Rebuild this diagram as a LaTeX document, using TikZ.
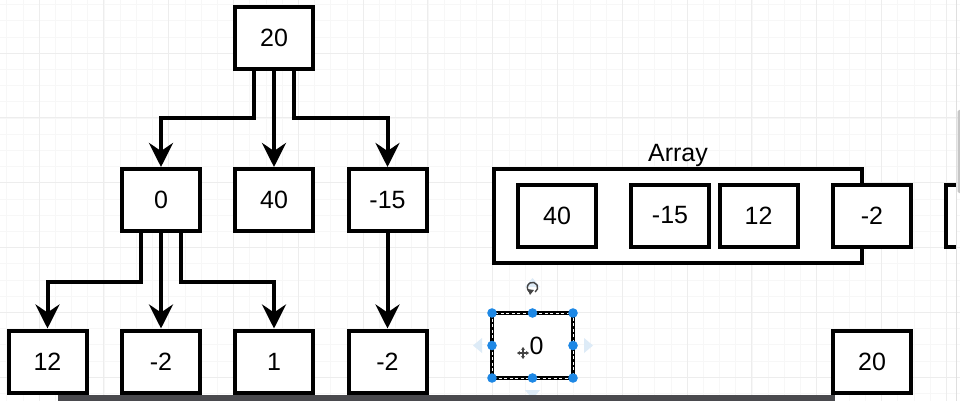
\documentclass[tikz,border=0pt]{standalone}
\usepackage{fontspec}
\setmainfont{Liberation Sans}
\usetikzlibrary{arrows.meta}
\definecolor{gridmaj}{HTML}{EDEDED}
\definecolor{gridmin}{HTML}{F7F7F7}
\definecolor{handle}{HTML}{1E88E5}
\definecolor{hint}{HTML}{DDEBF7}
\definecolor{barc}{HTML}{4A4A4E}
\definecolor{iconc}{HTML}{444444}
\tikzset{
  box/.style={draw=black, line width=4pt, fill=white, minimum width=78pt,
    minimum height=62pt, inner sep=0pt, font=\fontsize{25}{30}\selectfont},
  conn/.style={line width=4pt, -{Stealth[length=24pt,width=24pt,inset=8pt]}},
  lbl/.style={inner sep=0pt, font=\fontsize{25}{30}\selectfont},
  hnd/.style={fill=handle},
  hintc/.style={fill=hint},
}
\begin{document}
\begin{tikzpicture}[x=1pt,y=-1pt]
\useasboundingbox (0,0) rectangle (960,401);
\begin{scope}
\clip (0,0) rectangle (960,401);
\fill[white] (0,0) rectangle (960,401);
% grid
\foreach \i in {0,...,59} \draw[gridmin, line width=0.5pt] ({6.6+16.2*\i},0) -- ++(0,401);
\foreach \j in {0,...,24} \draw[gridmin, line width=0.5pt] (0,{4.4+16.2*\j}) -- ++(960,0);
\foreach \i in {0,...,14} \draw[gridmaj, line width=0.8pt] ({39+64.8*\i},0) -- ++(0,401);
\foreach \j in {1,...,6} \draw[gridmaj, line width=0.8pt] (0,{-11.8+64.8*\j}) -- ++(960,0);

% tree
\node[box] (r) at (274,38) {20};
\node[box] (a) at (161,200) {0};
\node[box] (b) at (274,200) {40};
\node[box] (c) at (387.5,200) {-15};
\node[box] (d) at (47.5,361.5) {12};
\node[box] (e) at (161,361.5) {-2};
\node[box] (f) at (274,361.5) {1};
\node[box] (g) at (387.5,361.5) {-2};

\draw[conn] ([xshift=-20pt]r.south) -- ++(0,47) -| (a.north);
\draw[conn] (r.south) -- (b.north);
\draw[conn] ([xshift=20pt]r.south) -- ++(0,47) -| (c.north);
\draw[conn] ([xshift=-20pt]a.south) -- ++(0,49) -| (d.north);
\draw[conn] (a.south) -- (e.north);
\draw[conn] ([xshift=20pt]a.south) -- ++(0,49) -| (f.north);
\draw[conn] (c.south) -- (g.north);

% array
\node[draw=black, line width=4pt, fill=white, minimum width=368pt,
  minimum height=94pt, inner sep=0pt] (arr) at (678,216) {};
\node[lbl, anchor=base] (arrl) at (678,161) {Array};
\node[box] (a1) at (557,215.5) {40};
\node[box] (a2) at (670,215.5) {-15};
\node[box] (a3) at (758.5,215.5) {12};
\node[box] (a4) at (872,215.5) {-2};
\begin{scope}
\clip (0,0) rectangle (956,401);
\node[box] (a5) at (985,215.5) {};
\end{scope}

% bottom right
\node[box] (h) at (872,361.5) {20};

% selected box
\node[box, line width=3.5pt, minimum width=81pt, minimum height=65pt, outer sep=0pt] (sel) at (532.5,345.5) {};
\draw[white, line width=0.9pt, dash pattern=on 3pt off 2.5pt]
  (sel.north west) rectangle (sel.south east);
\node[lbl] (selt) at (536.5,346) {0};
\foreach \p in {north west,north,north east,west,east,south west,south,south east}
  \fill[hnd] (sel.\p) circle (4.8pt);
% hint arrows
\fill[hintc] (473,345.5) -- (482,338) -- (482,353) -- cycle;
\fill[hintc] (593,345.5) -- (584,338) -- (584,353) -- cycle;
\fill[hintc] (532.5,278) -- (525,287) -- (540,287) -- cycle;
\fill[hintc] (532.5,399) -- (525,390) -- (540,390) -- cycle;
% rotate icon
\draw[iconc, line width=1.4pt] (532.5,296.5) ++(-60:5.2) arc[start angle=-60, end angle=230, radius=5.2pt];
\fill[iconc] (527.5,289) -- (534,290) -- (530,295) -- cycle;
% move cursor
\begin{scope}[shift={(523,353)}]
\fill[white] (0,0) circle (6.5pt);
\draw[iconc, line width=1.2pt, {Stealth[length=3pt,width=4pt]}-{Stealth[length=3pt,width=4pt]}] (-6,0) -- (6,0);
\draw[iconc, line width=1.2pt, {Stealth[length=3pt,width=4pt]}-{Stealth[length=3pt,width=4pt]}] (0,-6) -- (0,6);
\end{scope}

% scrollbar
\draw[gray!25, line width=0.8pt] (956.5,0) -- (956.5,401);
\fill[gray!45, rounded corners=1.5pt] (957.5,110) rectangle (961,193);

% dark bar
\fill[barc] (58,395) rectangle (835,402);
\end{scope}
\end{tikzpicture}
\end{document}
